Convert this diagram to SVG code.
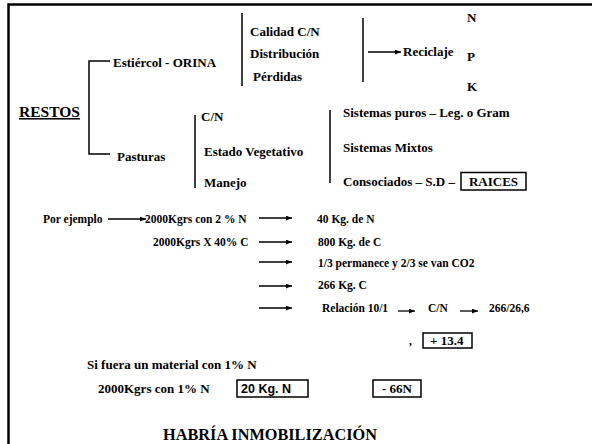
<svg xmlns="http://www.w3.org/2000/svg" width="592" height="444" viewBox="0 0 592 444">
<defs>
<marker id="ah" viewBox="0 0 10 8" refX="10" refY="4" markerWidth="6" markerHeight="5" markerUnits="userSpaceOnUse" orient="auto"><path d="M0,0 L10,4 L0,8 Z" fill="#000"/></marker>
</defs>
<style>
text{font-family:"Liberation Serif","Times New Roman",serif;font-weight:bold;fill:#000}
.t{font-size:13px}
.s{font-size:11.5px}
.m{font-size:13px}
.ln{stroke:#000;stroke-width:1.5;fill:none}
.ar{stroke:#000;stroke-width:1.3;fill:none;marker-end:url(#ah)}
.bx{stroke:#000;stroke-width:1.5;fill:#fff}
</style>
<rect x="0" y="0" width="592" height="444" fill="#fff"/>
<path d="M8.5,450 L8.5,4.5 L600,4.5" stroke="#000" stroke-width="2.5" fill="none"/>

<g id="connectors">
<path class="ln" d="M110,61 H89 V154 H110"/>
<path class="ln" d="M242,13 V86"/>
<path class="ln" d="M195,115 V188"/>
<path class="ln" d="M363,18 V82"/>
<path class="ln" d="M330,110 V183"/>
<path class="ar" d="M368,52 H401"/>
<path class="ar" d="M108,219 H146"/>
<path class="ar" d="M259,218 H292"/>
<path class="ar" d="M259,242 H292"/>
<path class="ar" d="M259,262 H292"/>
<path class="ar" d="M259,286 H292"/>
<path class="ar" d="M259,308 H292"/>
<path class="ar" d="M398,311 H415"/>
<path class="ar" d="M460,311 H478"/>
</g>

<g id="restos"><text x="19" y="117" style="font-size:15.5px" text-decoration="underline">RESTOS</text></g>
<g id="estiercol"><text class="t" x="113" y="67">Estiércol - ORINA</text></g>
<g id="pasturas"><text class="t" x="117" y="161">Pasturas</text></g>
<g id="calidad"><text class="t" x="250" y="36">Calidad C/N</text></g>
<g id="distribucion"><text class="t" x="250" y="58">Distribución</text></g>
<g id="perdidas"><text class="t" x="253" y="81">Pérdidas</text></g>
<g id="reciclaje"><text class="t" x="403" y="56">Reciclaje</text></g>
<g id="n"><text class="t" x="467" y="22">N</text></g>
<g id="p"><text class="t" x="467" y="61">P</text></g>
<g id="k"><text class="t" x="467" y="91">K</text></g>
<g id="cn"><text class="t" x="201" y="121">C/N</text></g>
<g id="estado"><text class="t" x="204" y="156">Estado Vegetativo</text></g>
<g id="manejo"><text class="t" x="204" y="187">Manejo</text></g>
<g id="sist-puros"><text class="t" x="343" y="117">Sistemas puros – Leg. o Gram</text></g>
<g id="sist-mixtos"><text class="t" x="343" y="152">Sistemas Mixtos</text></g>
<g id="consociados"><text class="t" x="343" y="186">Consociados – S.D –</text></g>
<g id="raices"><rect class="bx" x="461" y="172.5" width="65" height="17.5"/><text class="t" x="493.5" y="186" text-anchor="middle">RAICES</text></g>

<g id="por-ejemplo"><text class="s" x="43" y="223">Por ejemplo</text></g>
<g id="kg2"><text class="s" x="145" y="223">2000Kgrs con 2 % N</text></g>
<g id="kg40"><text class="s" x="153" y="246">2000Kgrs  X 40% C</text></g>
<g id="n40"><text class="s" x="317" y="223">40 Kg. de N</text></g>
<g id="c800"><text class="s" x="318" y="246">800 Kg. de C</text></g>
<g id="co2"><text class="s" x="318" y="267">1/3 permanece y 2/3 se van  CO2</text></g>
<g id="c266"><text class="s" x="318" y="289">266 Kg. C</text></g>
<g id="relacion"><text class="s" x="322" y="312">Relación 10/1</text></g>
<g id="cn2"><text class="s" x="428" y="312">C/N</text></g>
<g id="ratio"><text class="s" x="489" y="312">266/26,6</text></g>
<g id="dot"><text class="s" x="409" y="345">,</text></g>
<g id="plus"><rect class="bx" x="423" y="333" width="49" height="15"/><text class="m" x="430" y="345">+ 13.4</text></g>
<g id="si-fuera"><text class="m" x="87" y="369">Si fuera un material con 1% N</text></g>
<g id="kg1"><text class="m" x="98" y="393">2000Kgrs con 1% N</text></g>
<g id="kg20"><rect class="bx" x="237" y="380" width="71" height="17"/><text x="241" y="392.5" style="font-family:'Liberation Sans',Arial,sans-serif;font-size:12.5px">20 Kg. N</text></g>
<g id="minus"><rect class="bx" x="373" y="380" width="48" height="17"/><text class="m" x="397" y="393" text-anchor="middle">- 66N</text></g>
<g id="habria"><text x="163" y="440" style="font-size:16.3px">HABRÍA INMOBILIZACIÓN</text></g>
</svg>
